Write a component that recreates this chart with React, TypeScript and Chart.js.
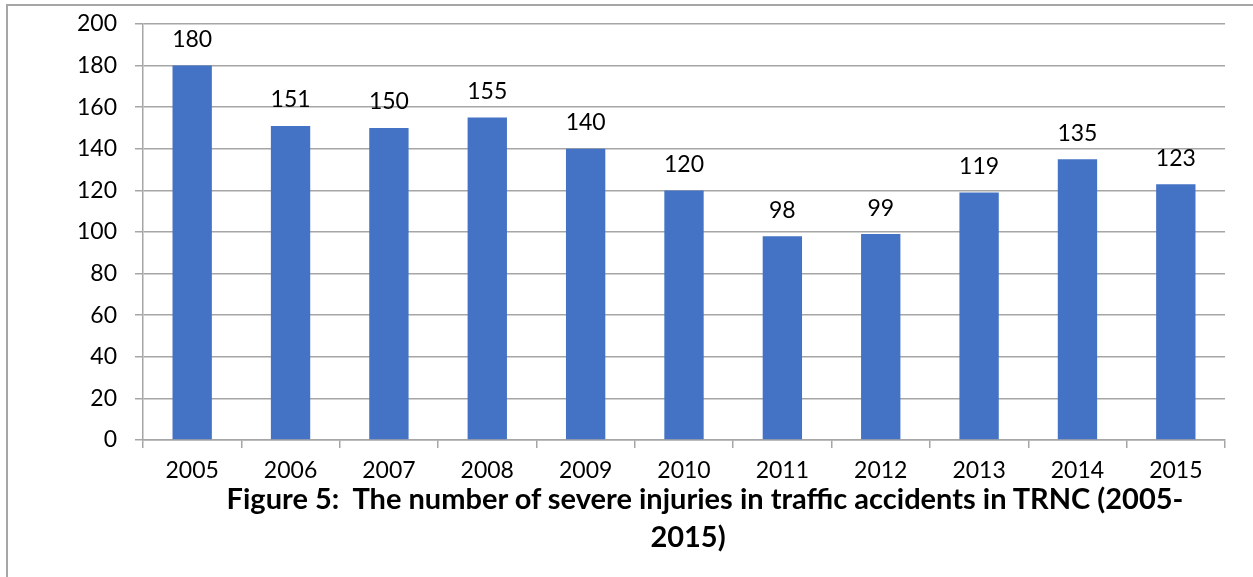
import React, { useEffect, useRef } from "react";
import { Chart, registerables } from "chart.js";

Chart.register(...registerables);

const years = ["2005", "2006", "2007", "2008", "2009", "2010", "2011", "2012", "2013", "2014", "2015"];
const severeInjuries = [180, 151, 150, 155, 140, 120, 98, 99, 119, 135, 123];
const yMin = 0;
const yMax = 200;
const yStep = 20;
const titleLine1 = "Figure 5:  The number of severe injuries in traffic accidents in TRNC (2005-";
const titleLine2 = "2015)";

const FONT = "Lato, 'Open Sans', sans-serif";
const GRID = "#a6a6a6";
const BAR = "#4472c4";

const valueLabels = {
  id: "valueLabels",
  afterDatasetsDraw(chart: any) {
    const ctx = chart.ctx;
    const meta = chart.getDatasetMeta(0);
    const data = chart.data.datasets[0].data as number[];
    ctx.save();
    ctx.font = `23px ${FONT}`;
    ctx.fillStyle = "#000";
    ctx.textAlign = "center";
    ctx.textBaseline = "middle";
    meta.data.forEach((bar: any, i: number) => {
      ctx.fillText(String(data[i]), bar.x, bar.y - 26);
    });
    ctx.restore();
  },
};

function BarChart() {
  const ref = useRef<HTMLCanvasElement>(null);
  useEffect(() => {
    if (!ref.current) return;
    const chart = new Chart(ref.current, {
      type: "bar",
      data: {
        labels: years,
        datasets: [
          {
            data: severeInjuries,
            backgroundColor: BAR,
            borderWidth: 0,
            barPercentage: 0.4,
            categoryPercentage: 1,
          },
        ],
      },
      options: {
        animation: false,
        responsive: false,
        maintainAspectRatio: false,
        layout: { padding: { top: 24, right: 28, left: 0, bottom: 0 } },
        plugins: {
          legend: { display: false },
          title: { display: false },
          tooltip: { enabled: false },
        },
        scales: {
          x: {
            grid: {
              drawOnChartArea: false,
              drawTicks: true,
              tickLength: 8,
              color: GRID,
              lineWidth: 1.5,
            },
            border: { display: true, color: GRID, width: 1.5 },
            ticks: {
              color: "#000",
              font: { family: FONT, size: 23 },
              padding: 9,
              maxRotation: 0,
            },
            afterFit(scale: any) {
              scale.height = 137;
              scale.paddingLeft = 0;
              scale.paddingRight = 0;
            },
          },
          y: {
            min: yMin,
            max: yMax,
            grid: {
              drawTicks: true,
              tickLength: 8,
              color: GRID,
              lineWidth: 1.5,
            },
            border: { display: true, color: GRID, width: 1.5 },
            ticks: {
              stepSize: yStep,
              color: "#000",
              font: { family: FONT, size: 23 },
              padding: 18,
            },
            afterFit(scale: any) {
              scale.width = 143;
              scale.paddingTop = 0;
              scale.paddingBottom = 0;
            },
          },
        },
      },
      plugins: [valueLabels],
    });
    return () => chart.destroy();
  }, []);
  return <canvas ref={ref} width={1253} height={577} style={{ position: "absolute", left: 0, top: 0 }} />;
}

export default function App() {
  const titleStyle: React.CSSProperties = {
    position: "absolute",
    fontFamily: FONT,
    fontWeight: 700,
    fontSize: 29,
    lineHeight: "38px",
    color: "#000",
    textAlign: "center",
    whiteSpace: "pre",
  };
  return (
    <div style={{ position: "fixed", left: 0, top: 0, width: 1253, height: 577, background: "#fff", overflow: "hidden" }}>
      <div style={{ position: "absolute", left: 6, top: 5, width: 2, height: 572, background: "#a6a6a6" }} />
      <div style={{ position: "absolute", left: 6, top: 4, width: 1247, height: 2, background: "#a6a6a6" }} />
      <BarChart />
      <div style={{ ...titleStyle, left: 0, width: 1410, top: 479 }}>{titleLine1}</div>
      <div style={{ ...titleStyle, left: 0, width: 1376, top: 517 }}>{titleLine2}</div>
    </div>
  );
}
